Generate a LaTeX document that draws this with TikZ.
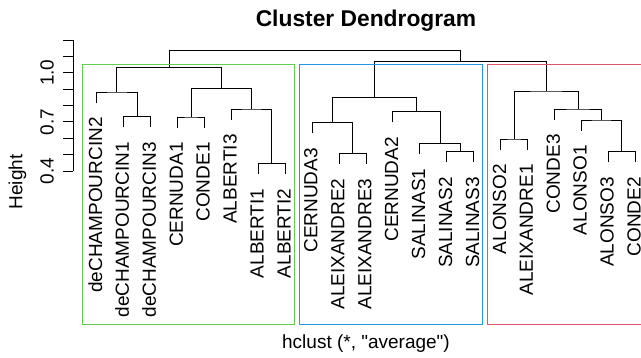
\documentclass[tikz,border=0pt]{standalone}
\usepackage{fontspec}
\setmainfont{Liberation Sans}[Ligatures=TeXOff]
\definecolor{rgreen}{HTML}{61D04F}
\definecolor{rblue}{HTML}{2297E6}
\definecolor{rred}{HTML}{DF536B}
\newcommand{\dleaf}[4]{\coordinate (#1) at (#2,#3); \path (#1) ++(5.3,14.5) node[lab] (#1-t) {#4};}
\newcommand{\dmerge}[5]{\coordinate (#1) at (#2,#3); \draw[tree] (#4) |- (#1) -| (#5);}
\begin{document}
\begin{tikzpicture}[x=1pt,y=-1pt,
  tree/.style={line width=0.9pt, black},
  box/.style={line width=0.9pt},
  lab/.style={rotate=90, anchor=base east, inner sep=0pt, font=\fontsize{19}{22}\selectfont},
  axlab/.style={rotate=90, anchor=base, inner sep=0pt, font=\fontsize{19}{22}\selectfont}]
\useasboundingbox (0,0) rectangle (641,358);
% leaves
\dleaf{l0}{96.7}{102.7}{deCHAMPOURCIN2}
\dleaf{l1}{123.6}{127.4}{deCHAMPOURCIN1}
\dleaf{l2}{150.6}{127.4}{deCHAMPOURCIN3}
\dleaf{l3}{177.5}{127.7}{CERNUDA1}
\dleaf{l4}{204.4}{127.7}{CONDE1}
\dleaf{l5}{231.4}{119.7}{ALBERTI3}
\dleaf{l6}{258.3}{174}{ALBERTI1}
\dleaf{l7}{285.2}{174}{ALBERTI2}
\dleaf{l8}{312.1}{133.4}{CERNUDA3}
\dleaf{l9}{339.1}{164}{ALEIXANDRE2}
\dleaf{l10}{366.0}{164}{ALEIXANDRE3}
\dleaf{l11}{392.9}{122.4}{CERNUDA2}
\dleaf{l12}{419.9}{154}{SALINAS1}
\dleaf{l13}{446.8}{162.4}{SALINAS2}
\dleaf{l14}{473.7}{162.4}{SALINAS3}
\dleaf{l15}{500.7}{149.7}{ALONSO2}
\dleaf{l16}{527.6}{149.7}{ALEIXANDRE1}
\dleaf{l17}{554.5}{119.7}{CONDE3}
\dleaf{l18}{581.4}{130.7}{ALONSO1}
\dleaf{l19}{608.4}{162.4}{ALONSO3}
\dleaf{l20}{635.3}{162.4}{CONDE2}
% merges
\dmerge{m1}{137.1}{116.7}{l1}{l2}
\dmerge{m2}{116.9}{92}{l0}{m1}
\dmerge{m3}{191.0}{117}{l3}{l4}
\dmerge{m4}{271.8}{163.3}{l6}{l7}
\dmerge{m5}{251.6}{109}{l5}{m4}
\dmerge{m6}{221.3}{88.7}{m3}{m5}
\dmerge{mg}{169.1}{67.3}{m2}{m6}
\dmerge{m7}{352.6}{153.3}{l9}{l10}
\dmerge{m8}{332.3}{122.7}{l8}{m7}
\dmerge{m9}{460.3}{151.7}{l13}{l14}
\dmerge{m10}{440.1}{143.3}{l12}{m9}
\dmerge{m11}{416.5}{111.7}{l11}{m10}
\dmerge{mb}{374.4}{97.7}{m8}{m11}
\dmerge{m12}{514.2}{139}{l15}{l16}
\dmerge{m13}{621.9}{151.7}{l19}{l20}
\dmerge{m14}{601.6}{120}{l18}{m13}
\dmerge{m15}{578.1}{109}{l17}{m14}
\dmerge{mr}{546.1}{91}{m12}{m15}
\dmerge{mbr}{460.3}{61.7}{mb}{mr}
\dmerge{mtop}{314.7}{50.7}{mg}{mbr}
% cluster boxes
\draw[box, rgreen] (82.7,64.3) rectangle (294.3,324.3);
\draw[box, rblue] (299,64.3) rectangle (482.7,324.3);
\draw[box, rred] (487.7,64.3) rectangle (645,324.3);
% axis
\coordinate (atop) at (73.3,40);
\coordinate (abot) at (73.3,171);
\draw[tree] (atop) -- (abot);
\foreach \k in {0,...,8} {
  \draw[tree] (73.3,171-16.375*\k) -- (63.3,171-16.375*\k);
}
\node[axlab] (t04) at (53.5,171) {0.4};
\node[axlab] (t07) at (53.5,121.9) {0.7};
\node[axlab] (t10) at (53.5,72.75) {1.0};
\node[axlab] (ylab) at (22.5,182) {Height};
% titles
\node[anchor=base, inner sep=0pt, font=\fontsize{22.8}{26}\selectfont\bfseries] (title) at (366,26.3) {Cluster Dendrogram};
\node[anchor=base, inner sep=0pt, font=\fontsize{19}{22}\selectfont] (xlab) at (366,348.5) {hclust (*, "average")};
\end{tikzpicture}
\end{document}
